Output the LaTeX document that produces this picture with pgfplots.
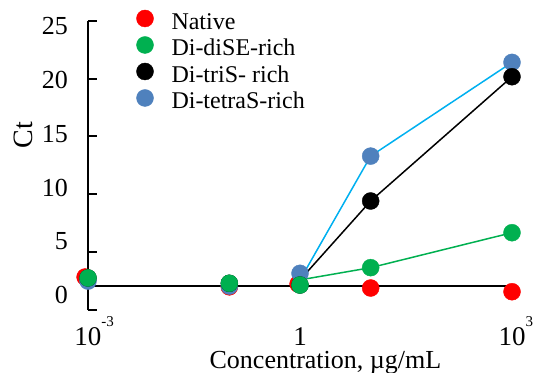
\documentclass[border=0pt]{standalone}
\usepackage{pgfplots}
\pgfplotsset{compat=1.18}
\usepackage{fontspec}
\setmainfont{Liberation Serif}
\definecolor{cred}{RGB}{255,0,0}
\definecolor{cgreen}{RGB}{0,176,80}
\definecolor{cblue}{RGB}{79,129,189}
\definecolor{ccyan}{RGB}{0,176,240}
\begin{document}
\begin{tikzpicture}
\begin{axis}[
  scale only axis,
  width=424pt, height=289.3pt,
  xmode=log,
  xmin=1e-3, xmax=1e3,
  ymin=0, ymax=25,
  axis y line*=left,
  axis x line*=bottom,
  x axis line style={draw=none},
  y axis line style={line width=2pt, black},
  xtick={1e-3,1,1e3},
  xticklabels={10\rlap{\raisebox{19pt}{\fontsize{15}{15}\selectfont -3}}, 1, 10\rlap{\raisebox{19pt}{\fontsize{15}{15}\selectfont 3}}},
  xtick style={draw=none},
  xticklabel style={font=\fontsize{27}{27}\selectfont, anchor=base, yshift=-35pt, inner sep=0pt},
  ytick={0,5,...,25},
  ytick align=inside,
  ytick style={line width=2pt, black},
  major tick length=9pt,
  yticklabel style={font=\fontsize{26}{26}\selectfont, anchor=east, inner sep=0pt, xshift=-20pt, yshift={15pt-4.1pt*\ticknum}},
  /pgf/number format/assume math mode=true,
  ylabel={Ct},
  ylabel style={font=\fontsize{28}{28}\selectfont, at={(axis description cs:-0.1533,0.605)}, anchor=center},
  xlabel={Concentration, µg/mL},
  xlabel style={font=\fontsize{26}{26}\selectfont, at={(axis description cs:0.56,-0.2005)}, anchor=base},
  legend style={at={(axis description cs:0.1144,1.037)}, anchor=north west, draw=none, fill=none,
    inner sep=0pt, outer sep=0pt, font=\fontsize{24}{26}\selectfont, row sep=5.5pt,
    nodes={inner sep=0pt, anchor=base west},
    /tikz/every odd column/.append style={column sep=18pt}},
  legend cell align=left,
  legend image code/.code={\draw[#1] plot coordinates {(8.5pt,11pt)};},
  clip=false,
]
\addlegendimage{only marks, mark=*, mark size=8.5pt, color=cred}
\addlegendentry{Native}
\addlegendimage{only marks, mark=*, mark size=8.5pt, color=cgreen}
\addlegendentry{Di-diSE-rich}
\addlegendimage{only marks, mark=*, mark size=8.5pt, color=black}
\addlegendentry{Di-triS- rich}
\addlegendimage{only marks, mark=*, mark size=8.5pt, color=cblue}
\addlegendentry{Di-tetraS-rich}

% baseline
\addplot[black, line width=2pt, forget plot] coordinates {(1e-3,2.07) (1e3,2.07)};

% Native
\addplot[only marks, mark=*, mark size=8.5pt, color=cred, forget plot] coordinates {
(0.00091,2.85) (0.1,2.0) (0.94,2.25) (10,1.9) (1000,1.58)};
% Di-tetraS-rich
\addplot[only marks, mark=*, mark size=8.5pt, color=cblue, forget plot] coordinates {
(0.001,2.5) (0.1,2.07) (1,3.17) (10,13.3) (1000,21.4)};
% Di-triS- rich
\addplot[only marks, mark=*, mark size=8.5pt, color=black, forget plot] coordinates {
(0.001,2.77) (0.1,2.31) (1,2.16) (10,9.42) (1000,20.16)};
% Di-diSE-rich
\addplot[only marks, mark=*, mark size=8.5pt, color=cgreen, forget plot] coordinates {
(0.001,2.77) (0.1,2.31) (1,2.16) (10,3.66) (1000,6.68)};

% connecting lines
\addplot[ccyan, line width=1.5pt, forget plot] coordinates {(1,2.6) (10,13.3) (1000,21.4)};
\addplot[black, line width=1.5pt, forget plot] coordinates {(1,2.6) (10,9.42) (1000,20.16)};
\addplot[cgreen, line width=1.5pt, forget plot] coordinates {(1,2.6) (10,3.66) (1000,6.68)};
\end{axis}
\pgfresetboundingbox
\path[use as bounding box] (-88pt,-62pt) rectangle (446pt,310pt);
\end{tikzpicture}
\end{document}
